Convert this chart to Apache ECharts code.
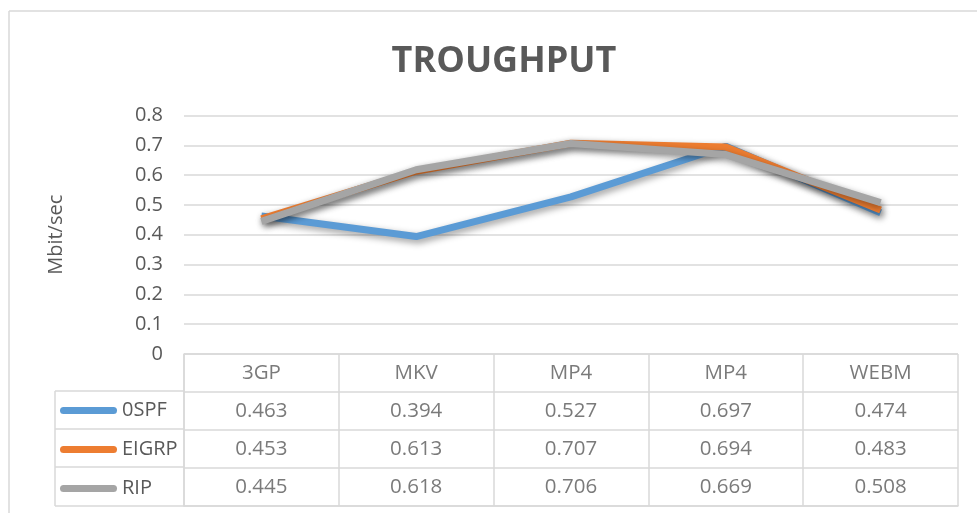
<!DOCTYPE html>
<html>
<head>
<meta charset="utf-8">
<script src="https://cdn.jsdelivr.net/npm/echarts@6/dist/echarts.min.js"></script>
<style>
  html, body { margin: 0; padding: 0; background: #fff; }
  #chart { width: 977px; height: 513px; }
</style>
</head>
<body>
<div id="chart"></div>
<script>
const categories = ['3GP', 'MKV', 'MP4', 'MP4', 'WEBM'];
const seriesNames = ['0SPF', 'EIGRP', 'RIP'];
const ospf = [0.463, 0.394, 0.527, 0.697, 0.474];
const eigrp = [0.453, 0.613, 0.707, 0.694, 0.483];
const rip = [0.445, 0.618, 0.706, 0.669, 0.508];
const colors = ['#5b9bd5', '#ed7d31', '#a5a5a5'];

const font = '"Open Sans", "Liberation Sans", sans-serif';
const textColor = '#595959';
const lineColor = '#d9d9d9';

// header row + one row per series, placed on the table grid by index
const tableCells = () => {
  const cells = [];
  categories.forEach((c, i) => cells.push({ value: [i, 0], text: c }));
  [ospf, eigrp, rip].forEach((vals, r) => {
    vals.forEach((v, i) => cells.push({ value: [i, r + 1], text: v.toFixed(3) }));
  });
  return cells;
};

const lineSeries = (name, data, color) => ({
  name: name,
  type: 'line',
  xAxisIndex: 0,
  yAxisIndex: 0,
  data: data,
  symbol: 'none',
  color: color,
  lineStyle: {
    width: 7,
    color: color,
    shadowColor: 'rgba(0,0,0,0.4)',
    shadowBlur: 7,
    shadowOffsetX: 2,
    shadowOffsetY: 3
  },
  emphasis: { disabled: true }
});

const hline = (x1, x2, y) => ({
  type: 'line', shape: { x1: x1, y1: y, x2: x2, y2: y },
  style: { stroke: lineColor, lineWidth: 1.5 }, silent: true
});
const vline = (x, y1, y2) => ({
  type: 'line', shape: { x1: x, y1: y1, x2: x, y2: y2 },
  style: { stroke: lineColor, lineWidth: 1.5 }, silent: true
});

const getOption = () => {
  return {
    backgroundColor: '#fff',
    animation: false,
    textStyle: { fontFamily: font },
    title: {
      text: 'TROUGHPUT',
      left: 499,
      textAlign: 'center',
      top: 39,
      textStyle: { fontSize: 36, fontWeight: 'bold', color: textColor, fontFamily: font }
    },
    legend: {
      data: seriesNames,
      orient: 'vertical',
      left: 60,
      top: 399,
      padding: 0,
      itemWidth: 57,
      itemHeight: 7,
      itemGap: 16,
      icon: 'path://M3.5,0 H53.5 A3.5,3.5 0 0 1 53.5,7 H3.5 A3.5,3.5 0 0 1 3.5,0 Z',
      textStyle: { fontSize: 20, lineHeight: 20, padding: [3, 0, 0, 0], color: textColor, fontFamily: font },
      selectedMode: false
    },
    grid: [
      { left: 184, right: 19, top: 115.5, height: 238.5 },
      { left: 184, right: 19, top: 354, height: 152 }
    ],
    xAxis: [
      {
        type: 'category', gridIndex: 0, data: categories, boundaryGap: true,
        axisLine: { show: false }, axisTick: { show: false }, axisLabel: { show: false }
      },
      {
        type: 'category', gridIndex: 1, data: categories, boundaryGap: true,
        axisLine: { show: true, lineStyle: { color: lineColor, width: 1.5 } },
        axisTick: { show: false }, axisLabel: { show: false },
        splitLine: { show: true, lineStyle: { color: lineColor, width: 1.5 } }
      }
    ],
    yAxis: [
      {
        type: 'value', gridIndex: 0, min: 0, max: 0.8, interval: 0.1,
        name: 'Mbit/sec', nameLocation: 'middle', nameRotate: 90, nameGap: 118,
        nameTextStyle: { fontSize: 20, color: textColor, fontFamily: font },
        axisLine: { show: false }, axisTick: { show: false },
        axisLabel: { fontSize: 20, color: textColor, margin: 21, fontFamily: font },
        splitLine: { lineStyle: { color: lineColor, width: 1.5 } }
      },
      {
        type: 'category', gridIndex: 1, data: ['', 'a', 'b', 'c'], inverse: true,
        boundaryGap: true,
        axisLine: { show: true, lineStyle: { color: lineColor, width: 1.5 } },
        axisTick: { show: false }, axisLabel: { show: false },
        splitLine: { show: true, lineStyle: { color: lineColor, width: 1.5 } }
      }
    ],
    series: [
      lineSeries(seriesNames[0], ospf, colors[0]),
      lineSeries(seriesNames[1], eigrp, colors[1]),
      lineSeries(seriesNames[2], rip, colors[2]),
      {
        type: 'scatter',
        xAxisIndex: 1,
        yAxisIndex: 1,
        symbolSize: 0,
        data: tableCells(),
        label: {
          show: true,
          position: 'inside',
          formatter: (p) => p.data.text,
          fontSize: 20.5,
          color: textColor,
          fontFamily: font
        },
        emphasis: { disabled: true },
        silent: true
      }
    ],
    graphic: [
      hline(9, 977, 11),
      vline(9, 11, 513),
      vline(55, 391, 506),
      hline(55, 184, 391),
      hline(55, 184, 429),
      hline(55, 184, 467),
      hline(55, 184, 506)
    ]
  };
};

const chart = echarts.init(document.getElementById('chart'));
chart.setOption(getOption());
</script>
</body>
</html>
